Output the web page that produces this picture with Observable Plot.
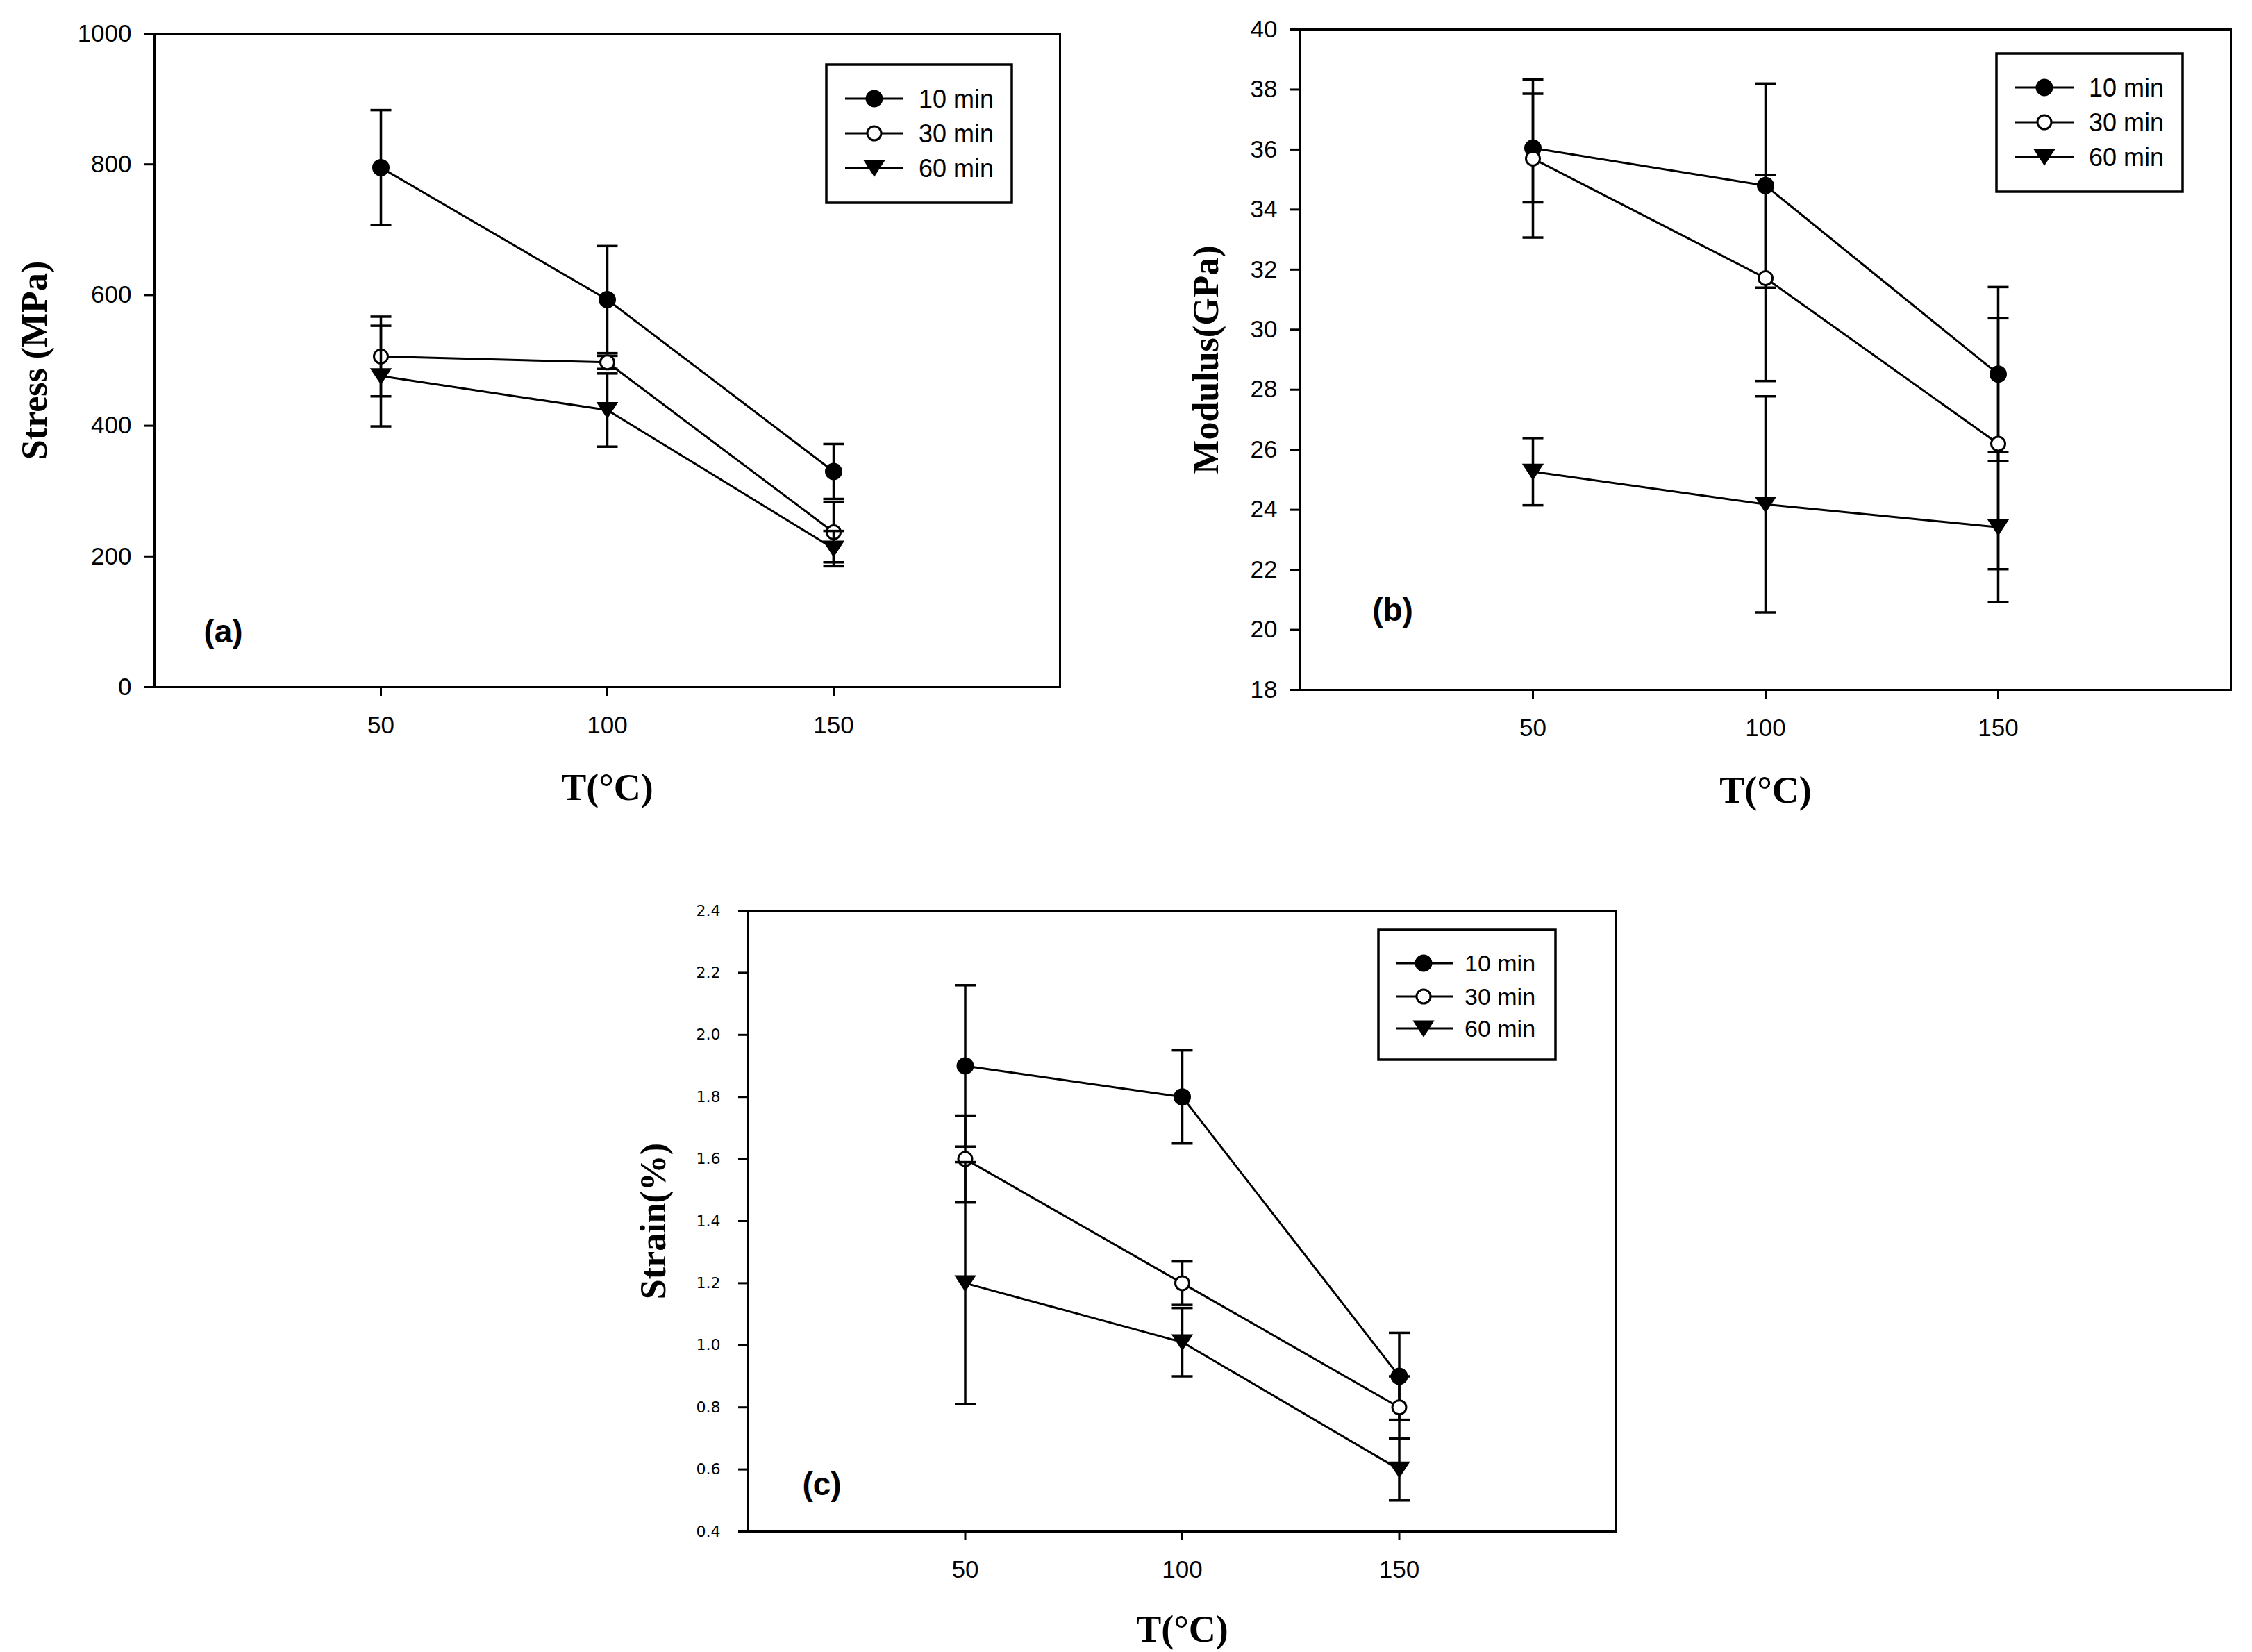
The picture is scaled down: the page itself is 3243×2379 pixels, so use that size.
<!DOCTYPE html>
<html><head><meta charset="utf-8">
<script src="https://cdn.jsdelivr.net/npm/d3@7"></script>
<script src="https://cdn.jsdelivr.net/npm/@observablehq/plot@0.6"></script>
<style>
html,body{margin:0;padding:0;background:#fff;}
#wrap{position:relative;width:3243px;height:2379px;background:#fff;overflow:hidden;}
#wrap svg{position:absolute;background:none;}
</style></head><body><div id="wrap"></div>
<script>
// ---------- data ----------
const temps = [50, 100, 150];
const seriesNames = ["10 min", "30 min", "60 min"];
const xTicks = [50, 100, 150];

const stress10 = [795, 593, 330], stress10Err = [88, 82, 42];
const stress30 = [506, 497, 237], stress30Err = [61, 10, 46];
const stress60 = [476, 424, 212], stress60Err = [77, 56, 27];
const stressTicks = [0, 200, 400, 600, 800, 1000];

const modulus10 = [36.05, 34.8, 28.52], modulus10Err = [1.81, 3.4, 2.9];
const modulus30 = [35.7, 31.72, 26.2], modulus30Err = [2.63, 3.43, 4.18];
const modulus60 = [25.27, 24.18, 23.42], modulus60Err = [1.12, 3.6, 2.5];
const modulusTicks = [18, 20, 22, 24, 26, 28, 30, 32, 34, 36, 38, 40];

const strain10 = [1.90, 1.80, 0.90], strain10Err = [0.26, 0.15, 0.14];
const strain30 = [1.60, 1.20, 0.80], strain30Err = [0.14, 0.07, 0.10];
const strain60 = [1.20, 1.01, 0.60], strain60Err = [0.39, 0.11, 0.10];
const strainTicks = [0.4, 0.6, 0.8, 1.0, 1.2, 1.4, 1.6, 1.8, 2.0, 2.2, 2.4];

// ---------- symbols ----------
const triDown = {draw(ctx, size) {
  const r = Math.sqrt(size / Math.PI);
  const w = r * 1.18, h = r * 0.9;
  ctx.moveTo(-w, -h); ctx.lineTo(w, -h); ctx.lineTo(0, h); ctx.closePath();
}};
const capSym = {draw(ctx, size) {
  const r = Math.sqrt(size / Math.PI);
  ctx.moveTo(-r, 0); ctx.lineTo(r, 0);
}};
const styles = {
  "10 min": {fill: "black", symbol: "circle", r: 11},
  "30 min": {fill: "white", symbol: "circle", r: 10},
  "60 min": {fill: "black", symbol: triDown, r: 11}
};

const tickFont = "'Liberation Sans', Arial, sans-serif";
const serif = "'Liberation Serif', 'Times New Roman', serif";

function rows(vals, errs) {
  return vals.map((v, i) => ({T: temps[i], v, e: errs[i]}));
}

function makePanel(cfg) {
  const marks = [Plot.frame({stroke: "black", strokeWidth: 3})];
  marks.push(Plot.axisY({ticks: cfg.yTicks, tickSize: 14, tickPadding: cfg.yPad, strokeWidth: 3,
    tickFormat: cfg.yFmt, label: null, fontSize: cfg.yFont, fontFamily: cfg.yFamily}));
  marks.push(Plot.axisX({ticks: xTicks, tickSize: 13, tickPadding: 29, strokeWidth: 3,
    tickFormat: d => String(d), label: null, fontSize: 35, fontFamily: tickFont}));
  cfg.series.forEach(s => {
    const data = rows(s.values, s.errs);
    const st = styles[s.name];
    marks.push(Plot.line(data, {x: "T", y: "v", stroke: "black", strokeWidth: 3}));
    marks.push(Plot.ruleX(data, {x: "T", y1: d => d.v - d.e, y2: d => d.v + d.e, stroke: "black", strokeWidth: 3.5}));
    marks.push(Plot.dot(data, {x: "T", y: d => d.v - d.e, symbol: capSym, r: 15, fill: "none", stroke: "black", strokeWidth: 3.5}));
    marks.push(Plot.dot(data, {x: "T", y: d => d.v + d.e, symbol: capSym, r: 15, fill: "none", stroke: "black", strokeWidth: 3.5}));
    marks.push(Plot.dot(data, {x: "T", y: "v", symbol: st.symbol, r: st.r, fill: st.fill, stroke: "black", strokeWidth: 3}));
  });
  marks.push(Plot.text([cfg.yLabel], {text: d => d, frameAnchor: "left", dx: cfg.yLabelDx, rotate: -90,
    textAnchor: "middle", lineAnchor: "middle", fontSize: 52, fontWeight: "bold", fontFamily: serif, fill: "black"}));
  marks.push(Plot.text(["T(°C)"], {text: d => d, frameAnchor: "bottom", dy: cfg.xLabelDy,
    textAnchor: "middle", lineAnchor: "middle", fontSize: 54, fontWeight: "bold", fontFamily: serif, fill: "black"}));
  marks.push(Plot.text([cfg.panelLabel], {text: d => d, frameAnchor: "bottom-left", dx: cfg.labelDx, dy: cfg.labelDy,
    textAnchor: "middle", lineAnchor: "middle", fontSize: 46, fontWeight: "bold", fontFamily: tickFont, fill: "black"}));

  const svg = Plot.plot({
    width: cfg.width, height: cfg.height,
    marginLeft: cfg.ml, marginRight: cfg.mr, marginTop: cfg.mt, marginBottom: cfg.mb,
    x: {domain: [0, 200]},
    y: {domain: cfg.yDomain},
    style: {background: "none", color: "black", fontFamily: tickFont, overflow: "visible"},
    marks
  });
  svg.style.left = cfg.left + "px";
  svg.style.top = cfg.top + "px";

  // legend box (inside the frame, top-right)
  const L = cfg.legend;
  const g = d3.select(svg).append("g").attr("text-anchor", "start");
  g.append("rect").attr("x", L.x).attr("y", L.y).attr("width", L.w).attr("height", L.h)
    .attr("fill", "white").attr("stroke", "black").attr("stroke-width", 3.5);
  seriesNames.forEach((name, i) => {
    const st = styles[name];
    const yy = L.y + L.rows[i];
    g.append("line").attr("x1", L.x + L.l0).attr("x2", L.x + L.l1).attr("y1", yy).attr("y2", yy)
      .attr("stroke", "black").attr("stroke-width", 3);
    const type = st.symbol === "circle" ? d3.symbolCircle : st.symbol;
    g.append("path").attr("d", d3.symbol(type, Math.PI * st.r * st.r)())
      .attr("transform", `translate(${L.x + L.mk},${yy})`)
      .attr("fill", st.fill).attr("stroke", "black").attr("stroke-width", 3);
    g.append("text").attr("x", L.x + L.tx).attr("y", yy).attr("dy", "0.36em")
      .attr("text-anchor", "start")
      .attr("font-size", L.fs).attr("font-family", tickFont).attr("fill", "black").text(name);
  });
  document.getElementById("wrap").appendChild(svg);
}

makePanel({
  left: 0, top: 0, width: 1600, height: 1200, ml: 222, mr: 74, mt: 48, mb: 211,
  yDomain: [0, 1000], yTicks: stressTicks, yFmt: d => String(d), yFont: 35, yFamily: tickFont, yPad: 19,
  yLabel: "Stress (MPa)", yLabelDx: -172, xLabelDy: 145, panelLabel: "(a)", labelDx: 99, labelDy: -79,
  series: [
    {name: "10 min", values: stress10, errs: stress10Err},
    {name: "30 min", values: stress30, errs: stress30Err},
    {name: "60 min", values: stress60, errs: stress60Err}
  ],
  legend: {x: 1190, y: 93, w: 267, h: 199, rows: [49, 99, 149], l0: 27, l1: 111, mk: 69, tx: 133, fs: 36}
});

makePanel({
  left: 1650, top: 0, width: 1593, height: 1200, ml: 222, mr: 31, mt: 42, mb: 207,
  yDomain: [18, 40], yTicks: modulusTicks, yFmt: d => String(d), yFont: 35, yFamily: tickFont, yPad: 19,
  yLabel: "Modulus(GPa)", yLabelDx: -135, xLabelDy: 145, panelLabel: "(b)", labelDx: 133, labelDy: -114,
  series: [
    {name: "10 min", values: modulus10, errs: modulus10Err},
    {name: "30 min", values: modulus30, errs: modulus30Err},
    {name: "60 min", values: modulus60, errs: modulus60Err}
  ],
  legend: {x: 1225, y: 77, w: 268, h: 199, rows: [49, 99, 149], l0: 27, l1: 111, mk: 69, tx: 133, fs: 36}
});

makePanel({
  left: 850, top: 1250, width: 1550, height: 1129, ml: 227, mr: 73, mt: 61, mb: 174,
  yDomain: [0.4, 2.4], yTicks: strainTicks, yFmt: d3.format(".1f"), yFont: 22, yFamily: "'DejaVu Sans', sans-serif", yPad: 26,
  yLabel: "Strain(%)", yLabelDx: -136, xLabelDy: 141, panelLabel: "(c)", labelDx: 106, labelDy: -67,
  series: [
    {name: "10 min", values: strain10, errs: strain10Err},
    {name: "30 min", values: strain30, errs: strain30Err},
    {name: "60 min", values: strain60, errs: strain60Err}
  ],
  legend: {x: 1135, y: 89, w: 255, h: 187, rows: [48, 96, 142], l0: 26, l1: 108, mk: 65, tx: 124, fs: 34}
});
</script></body></html>
